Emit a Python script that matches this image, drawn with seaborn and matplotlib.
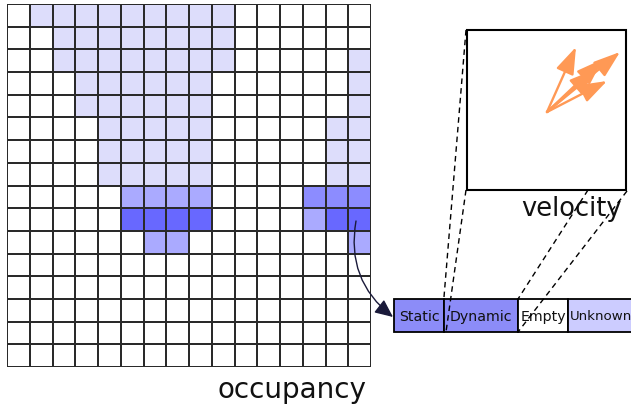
import numpy as np
import pandas as pd
import seaborn as sns
import matplotlib
matplotlib.use("Agg")
import matplotlib.pyplot as plt
from matplotlib.colors import ListedColormap
from matplotlib.patches import Rectangle, FancyArrowPatch

# ---- data ----
# occupancy level per cell: 0 empty, 1 unknown(light), 2 medium, 3 medium-dark, 4 dynamic(dark)
occupancy_rows = [
    "0111111111000000",
    "0011111111000000",
    "0011111111000001",
    "0001111110000001",
    "0001111110000001",
    "0000111110000011",
    "0000111110000011",
    "0000111110000011",
    "0000022220000333",
    "0000044440000244",
    "0000002200000002",
    "0000000000000000",
    "0000000000000000",
    "0000000000000000",
    "0000000000000000",
    "0000000000000000",
]
occupancy = np.array([[int(c) for c in r] for r in occupancy_rows])
level_colors = ["#ffffff", "#ddddfb", "#aaaaff", "#8c8cff", "#6868ff"]

bar_categories = ["Static", "Dynamic", "Empty", "Unknown"]
bar_colors = ["#8c8cf8", "#8c8cf8", "#ffffff", "#ccccff"]

# velocity vectors (dx, dy in pixels, y up)
vel_dx = [29, 56, 73, 60, 49]
vel_dy = [65, 53, 60, 31, 43]

# ---- figure ----
W, H = 631, 410
fig = plt.figure(figsize=(W / 100, H / 100), dpi=100)
sns.set_style("white")

gx0, gy0, gx1, gy1 = 7, 5, 371, 368
axg = fig.add_axes([gx0 / W, 1 - gy1 / H, (gx1 - gx0) / W, (gy1 - gy0) / H])
sns.heatmap(pd.DataFrame(occupancy), ax=axg, cmap=ListedColormap(level_colors),
            vmin=-0.5, vmax=4.5, cbar=False, linewidths=1.4, linecolor="#2a2a2a",
            xticklabels=False, yticklabels=False)
axg.set_xlim(0, 16)
axg.set_ylim(16, 0)

ax = fig.add_axes([0, 0, 1, 1], zorder=5)
ax.set_xlim(0, W)
ax.set_ylim(H, 0)
ax.axis("off")
ax.patch.set_alpha(0)

# velocity box
ax.add_patch(Rectangle((467, 31), 159, 160, fill=False, ec="black", lw=1.5))
ox, oy = 547, 113
for dx, dy in zip(vel_dx, vel_dy):
    ax.add_patch(FancyArrowPatch((ox, oy), (ox + dx, oy - dy),
                                 arrowstyle="-|>,head_length=1.1,head_width=0.38",
                                 mutation_scale=15, color="#ff9955", lw=1.7,
                                 shrinkA=0, shrinkB=0))

ax.text(572, 216, "velocity", fontsize=18.5, ha="center", va="baseline", color="#111111")
ax.text(292, 398, "occupancy", fontsize=20, ha="center", va="baseline", color="#111111")

# category bar
bx = [394, 444, 518, 568]
bw = [50, 74, 50, 75]
for x, w, c, lab in zip(bx, bw, bar_colors, bar_categories):
    ax.add_patch(Rectangle((x, 300), w, 33, fc=c, ec="black", lw=1.3, zorder=2))
    if lab == "Unknown":
        ax.text(x + 1.5, 317, lab, fontsize=9.6, ha="left", va="center",
                color="#111111", zorder=3)
    else:
        ax.text(x + w / 2, 317, lab, fontsize=10.2, ha="center", va="center",
                color="#111111", zorder=3)

# dashed projection lines
dash = dict(color="black", lw=1.0, ls=(0, (4, 3)), zorder=4)
ax.plot([466, 444], [31, 298], **dash)
ax.plot([466, 446], [191, 333], **dash)
ax.plot([588, 518], [191, 300], **dash)
ax.plot([627, 518], [192, 333], **dash)

# curved arrow from cell to bar
ax.add_patch(FancyArrowPatch((356, 222), (393, 318), connectionstyle="arc3,rad=0.3",
                             arrowstyle="-|>,head_length=1.0,head_width=0.45",
                             mutation_scale=11, color="#1a1a3a", lw=1.0,
                             shrinkA=0, shrinkB=0, zorder=6))

fig.savefig("out.png", dpi=100)
